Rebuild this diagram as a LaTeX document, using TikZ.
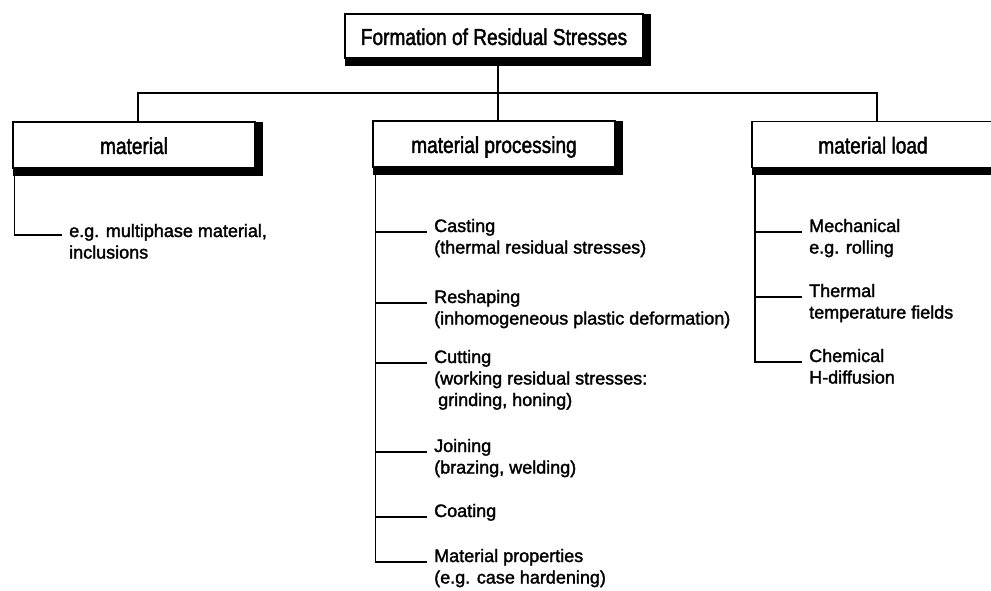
\documentclass[tikz,border=0pt]{standalone}
\usepackage{fontspec}
\setmainfont[FakeBold=1.5]{Liberation Sans}
\newfontfamily\condfont[FakeStretch=0.83,FakeBold=1.8]{Liberation Sans}
\newfontfamily\listfont[FakeBold=1.8]{Liberation Sans}
\newcommand{\itemlines}[1]{\begin{tabular}[t]{@{}l@{}}#1\end{tabular}}
\usetikzlibrary{backgrounds}
\begin{document}
\begin{tikzpicture}[x=1pt,y=-1pt,
  labelbox/.style={draw, line width=1.5pt, fill=white, outer sep=0pt, inner sep=0pt,
    minimum width=242pt, minimum height=46pt, text height=18pt, text depth=0pt,
    font=\condfont\fontsize{23}{26}\selectfont},
  item/.style={anchor=base west, inner xsep=7pt, inner ysep=0pt,
    font=\listfont\fontsize{18}{21.5}\selectfont},
  conn/.style={line width=1.5pt}]
\useasboundingbox (0,0) rectangle (991,591);
\clip (0,0) rectangle (991,591);

% header boxes
\node[labelbox, minimum width=298pt, minimum height=44pt] (title) at (494,36) {Formation of Residual Stresses};
\node[labelbox] (mat)  at (134,145)   {material};
\node[labelbox] (proc) at (494,144)   {material processing};
\node[labelbox] (load) at (873,144.5) {material load};

\begin{scope}[on background layer]
  \foreach \n in {title,mat,proc,load}
    \fill (\n.north west) rectangle ([xshift=8pt,yshift=-8pt]\n.south east);
\end{scope}

% items
\node[item] (m1) at (62,237) {\itemlines{e.g. multiphase material,\\inclusions}};

\node[item] (p1) at (427,232) {\itemlines{Casting\\(thermal residual stresses)}};
\node[item] (p2) at (427,303) {\itemlines{Reshaping\\(inhomogeneous plastic deformation)}};
\node[item] (p3) at (427,363) {\itemlines{Cutting\\(working residual stresses:\\\hspace{4pt}grinding, honing)}};
\node[item] (p4) at (427,452) {\itemlines{Joining\\(brazing, welding)}};
\node[item] (p5) at (427,517) {\itemlines{Coating}};
\node[item] (p6) at (427,562) {\itemlines{Material properties\\(e.g. case hardening)}};

\node[item] (l1) at (802,232) {\itemlines{Mechanical\\e.g. rolling}};
\node[item] (l2) at (802,297) {\itemlines{Thermal\\temperature fields}};
\node[item] (l3) at (802,362) {\itemlines{Chemical\\H-diffusion}};

% connectors
\draw[conn] ([xshift=4pt]title.south) -- ([xshift=4pt]proc.north);
\draw[conn] ([xshift=4pt]mat.north) -- ++(0,-29) -| ([xshift=4pt]load.north);

\coordinate (mv) at ([xshift=1.5pt]mat.south west);
\coordinate (pv) at ([xshift=2.5pt]proc.south west);
\coordinate (lv) at ([xshift=3pt]load.south west);

\draw[conn] (mv) |- ([yshift=2pt]m1.base west);
\draw[conn] (pv) |- (p6.base west);
\foreach \n in {p1,p2,p3,p4,p5}
  \draw[conn] (pv |- \n.base west) -- (\n.base west);
\draw[conn] (lv) |- (l3.base west);
\foreach \n in {l1,l2}
  \draw[conn] (lv |- \n.base west) -- (\n.base west);
\end{tikzpicture}
\end{document}
